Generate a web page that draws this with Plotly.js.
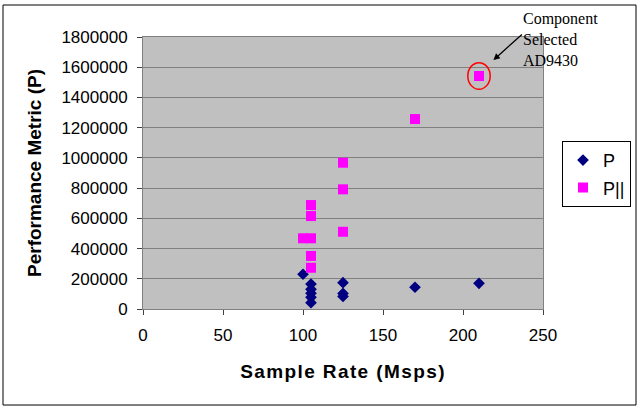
<!DOCTYPE html>
<html>
<head>
<meta charset="utf-8">
<script src="https://cdn.plot.ly/plotly-3.0.1.min.js"></script>
<style>
  html, body { margin: 0; padding: 0; background: #fff; }
  #chart { width: 640px; height: 412px; }
  .xtitle { letter-spacing: 1.4px; }
</style>
</head>
<body>
<div id="chart"></div>
<script>
// Data
const pX = [100, 105, 105, 105, 105, 105, 125, 125, 125, 170, 210];
const pY = [230000, 165000, 130000, 104000, 77000, 42000, 174000, 103000, 83000, 144000, 170000];
const ppX = [100, 105, 105, 105, 105, 105, 125, 125, 125, 170, 210];
const ppY = [468000, 688000, 615000, 468000, 351000, 273000, 968000, 792000, 511000, 1257000, 1542000];
const seriesNames = ['P', 'P||'];
const xTickVals = [0, 50, 100, 150, 200, 250];
const yTickVals = [0, 200000, 400000, 600000, 800000, 1000000, 1200000, 1400000, 1600000, 1800000];
const selectedIndex = 10; // AD9430 point in P|| series
const noteText = 'Component<br>Selected<br>AD9430';

const sans = 'Liberation Sans, Arial, sans-serif';

const traces = [
  {
    x: pX, y: pY, name: seriesNames[0], type: 'scatter', mode: 'markers',
    legendgroup: 'a',
    marker: { symbol: 'diamond', size: 9, color: '#000080', line: { width: 0 } }
  },
  {
    x: ppX, y: ppY, name: seriesNames[1], type: 'scatter', mode: 'markers',
    legendgroup: 'b',
    marker: { symbol: 'square', size: 10, color: '#FF00FF', line: { width: 0 } }
  }
];

const selX = ppX[selectedIndex], selY = ppY[selectedIndex];

const layout = {
  width: 640, height: 412,
  margin: { l: 143, r: 97, t: 37, b: 103, pad: 0, autoexpand: false },
  paper_bgcolor: '#ffffff',
  plot_bgcolor: '#C0C0C0',
  showlegend: true,
  font: { family: sans, color: '#000' },
  xaxis: {
    range: [0, 250], tickvals: xTickVals, ticktext: xTickVals.map(String),
    showgrid: false, zeroline: false,
    showline: true, linecolor: '#808080', linewidth: 1, mirror: true,
    ticks: 'outside', ticklen: 5, tickcolor: '#404040',
    tickfont: { family: sans, size: 17, color: '#000' },
    ticklabelstandoff: 6,
    title: { text: 'Sample Rate (Msps)', font: { family: sans, size: 19, weight: 'bold', color: '#000' }, standoff: 20 }
  },
  yaxis: {
    range: [0, 1800000], tickvals: yTickVals, ticktext: yTickVals.map(String),
    showgrid: true, gridcolor: '#808080', gridwidth: 1, zeroline: false,
    showline: true, linecolor: '#808080', linewidth: 1, mirror: true,
    ticks: 'outside', ticklen: 5, tickcolor: '#404040',
    tickfont: { family: sans, size: 17, color: '#000' },
    ticklabelstandoff: 6,
    title: { text: 'Performance Metric (P)', font: { family: sans, size: 19, weight: 'bold', color: '#000' }, standoff: 14 }
  },
  legend: {
    x: 1.0475, xanchor: 'left', y: 0.618, yanchor: 'top',
    bgcolor: '#ffffff', bordercolor: '#000000', borderwidth: 1,
    font: { family: sans, size: 18, color: '#000' },
    traceorder: 'grouped', tracegroupgap: 1,
    itemwidth: 30
  },
  shapes: [
    { type: 'circle', xref: 'x', yref: 'y',
      x0: selX - 7, x1: selX + 7, y0: selY - 88000, y1: selY + 88000,
      line: { color: '#FF0000', width: 1.5 }, fillcolor: 'rgba(0,0,0,0)' },
    { type: 'rect', xref: 'paper', yref: 'paper',
      x0: -0.35, x1: 1.2325, y0: -0.353, y1: 1.1176,
      line: { color: '#000000', width: 1 }, fillcolor: 'rgba(0,0,0,0)', layer: 'below' }
  ],
  annotations: [
    { xref: 'paper', yref: 'paper', x: 0.945, y: 1.105, xanchor: 'left', yanchor: 'top',
      text: noteText, showarrow: false, align: 'left',
      font: { family: 'Liberation Serif, Times New Roman, serif', size: 16, color: '#000' } },
    { xref: 'x', yref: 'y', x: selX + 9, y: selY + 105000, text: '',
      showarrow: true, arrowhead: 2, arrowsize: 1, arrowwidth: 1.3, arrowcolor: '#000',
      ax: 30, ay: -27, standoff: 0 }
  ]
};

Plotly.newPlot('chart', traces, layout, { staticPlot: true, displayModeBar: false });
</script>
</body>
</html>
